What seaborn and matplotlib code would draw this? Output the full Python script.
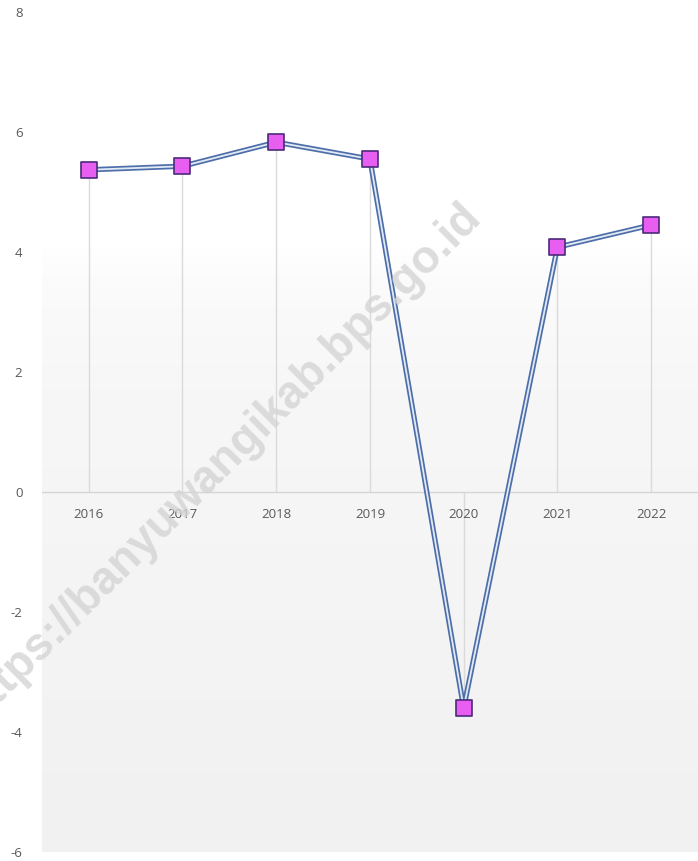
import numpy as np
import pandas as pd
import matplotlib
matplotlib.use("Agg")
import matplotlib.pyplot as plt
import seaborn as sns
from matplotlib.colors import LinearSegmentedColormap

# ======================================
# DATA
# ======================================
years = ["2016", "2017", "2018", "2019", "2020", "2021", "2022"]
growth = [5.37, 5.43, 5.83, 5.55, -3.60, 4.08, 4.45]
y_ticks = [8, 6, 4, 2, 0, -2, -4, -6]
watermark = "https://banyuwangikab.bps.go.id"

df = pd.DataFrame({"year": years, "growth": growth})
df["pos"] = np.arange(len(years))

# ======================================
# FIGURE
# ======================================
sns.set_style("white")
plt.rcParams["font.family"] = ["Open Sans", "DejaVu Sans"]

fig = plt.figure(figsize=(6.98, 8.61), dpi=100)
ax = fig.add_axes([0.060, 1 - 852 / 861, 0.940, 840 / 861])

ax.set_xlim(-0.5, len(years) - 0.5)
ax.set_ylim(-6, 8)

# background gradient: white on top, light grey towards the bottom
grad = np.linspace(0, 1, 256).reshape(-1, 1)
bg_cmap = LinearSegmentedColormap.from_list(
    "bg", [(0.0, "#f1f1f1"), (0.55, "#f7f7f7"), (0.68, "#fbfbfb"), (0.72, "#ffffff"), (1.0, "#ffffff")])
ax.imshow(grad, aspect="auto", cmap=bg_cmap, origin="lower",
          extent=[-0.5, len(years) - 0.5, -6, 8], zorder=0)

# drop lines from each point to zero
ax.vlines(df["pos"], 0, df["growth"], color="#dadada", lw=1, zorder=1)
ax.axhline(0, color="#d6d6d6", lw=1, zorder=1)

# double line: dark outer, light inner
sns.lineplot(data=df, x="pos", y="growth", ax=ax, color="#4d6ea8", lw=3.8, zorder=3)
sns.lineplot(data=df, x="pos", y="growth", ax=ax, color="#e2eaf6", lw=1.3, zorder=4)
sns.scatterplot(data=df, x="pos", y="growth", ax=ax, marker="s", s=125,
                color="#e85ef0", edgecolor="#4b2a7a", linewidth=1.2, zorder=5)

# axes
for s in ax.spines.values():
    s.set_visible(False)
ax.set_xticks(df["pos"])
ax.set_xticklabels([])
for p, lab in zip(df["pos"], years):
    ax.text(p, -0.38, lab, ha="center", va="center", fontsize=9.5, color="#595959", zorder=6)
ax.set_yticks(y_ticks)
ax.set_yticklabels([str(t) for t in y_ticks], fontsize=9.5, color="#595959")
ax.tick_params(axis="both", length=0)
ax.tick_params(axis="y", pad=14)
ax.set_xlabel("")
ax.set_ylabel("")
ax.grid(False)

# watermark
fig.text(0.318, 0.463, watermark, rotation=45, ha="center", va="center",
         fontsize=33, fontweight="bold", family="Liberation Sans",
         color="#d4d4d4", alpha=0.8, zorder=10)

fig.savefig("out.png", dpi=100)
